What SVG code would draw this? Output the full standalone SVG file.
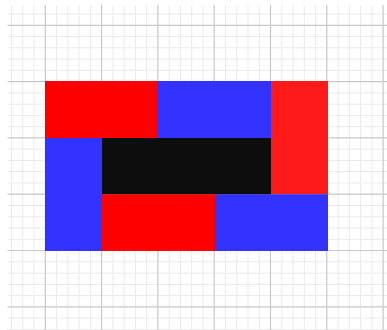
<svg xmlns="http://www.w3.org/2000/svg" width="387" height="330" viewBox="0 0 387 330">
  <style>
    .minor { stroke: #ebebeb; stroke-width: 1; fill: none; }
    .major { stroke: #c8c8c8; stroke-width: 1.2; fill: none; }
    .red { fill: #ff0000; }
    .red2 { fill: #ff1a1a; }
    .blue { fill: #3333ff; }
    .black { fill: #0d0d0d; }
  </style>
  <rect x="0" y="0" width="387" height="330" fill="#ffffff"/>
  <g id="grid">
    <path class="minor" d="M11.5 5V330M22.8 5V330M34 5V330M56.6 5V330M67.8 5V330M79.1 5V330M90.4 5V330M112.9 5V330M124.2 5V330M135.4 5V330M146.7 5V330M169.2 5V330M180.5 5V330M191.7 5V330M203 5V330M225.5 5V330M236.8 5V330M248 5V330M259.3 5V330M281.8 5V330M293.1 5V330M304.3 5V330M315.6 5V330M338.1 5V330M349.4 5V330M360.6 5V330M371.9 5V330
      M7.5 14H387M7.5 36.6H387M7.5 47.8H387M7.5 59.1H387M7.5 70.4H387M7.5 92.9H387M7.5 104.2H387M7.5 115.4H387M7.5 126.7H387M7.5 149.2H387M7.5 160.5H387M7.5 171.7H387M7.5 183H387M7.5 205.5H387M7.5 216.8H387M7.5 228H387M7.5 239.3H387M7.5 261.8H387M7.5 273.1H387M7.5 284.3H387M7.5 295.6H387M7.5 318.1H387M7.5 329.4H387"/>
    <path class="major" d="M45.3 5V330M101.6 5V330M157.9 5V330M214.2 5V330M270.5 5V330M326.8 5V330M383.1 5V330
      M7.5 25.3H387M7.5 81.6H387M7.5 137.9H387M7.5 194.2H387M7.5 250.5H387M7.5 306.8H387"/>
  </g>
  <g id="tiles">
    <rect id="red-top-left" class="red" x="45" y="81" width="113" height="57"/>
    <rect id="blue-top-middle" class="blue" x="158" y="81" width="113.5" height="57"/>
    <rect id="red-right" class="red2" x="271" y="81" width="57" height="113.2"/>
    <rect id="blue-left" class="blue" x="45" y="138" width="57" height="113"/>
    <rect id="red-bottom" class="red" x="102" y="194.2" width="113" height="56.8"/>
    <rect id="blue-bottom-right" class="blue" x="215" y="194.2" width="113" height="56.8"/>
    <rect id="black-center" class="black" x="102" y="138" width="169" height="56.2"/>
  </g>
</svg>
